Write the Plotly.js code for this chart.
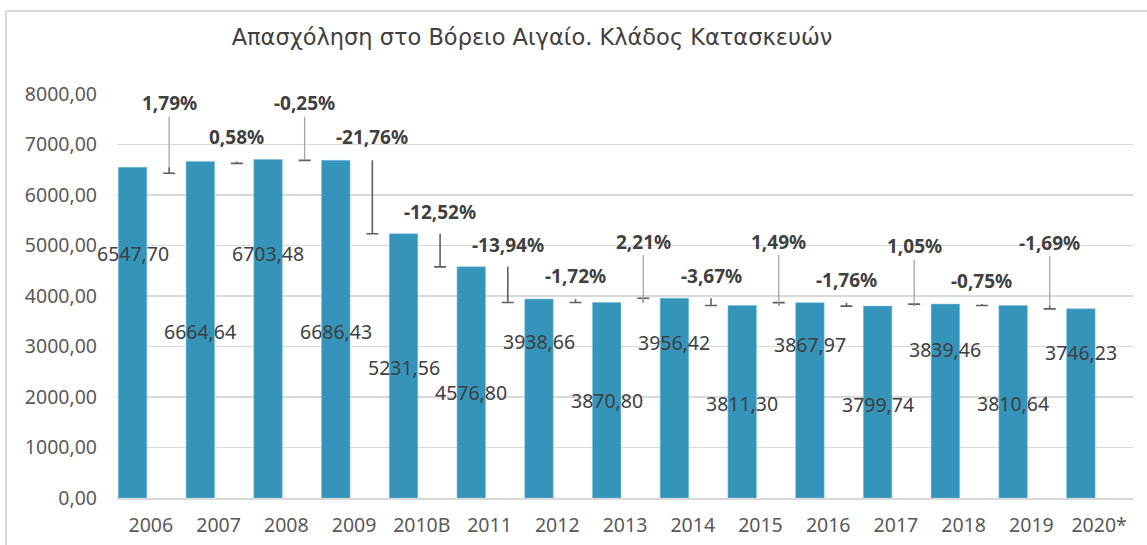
<!DOCTYPE html>
<html>
<head>
<meta charset="utf-8">
<script src="https://cdn.plot.ly/plotly-3.0.1.min.js"></script>
<style>
  html, body { margin: 0; padding: 0; background: #ffffff; }
  #chart { width: 1147px; height: 545px; }
</style>
</head>
<body>
<div id="chart"></div>
<script>
// ---- data ----
const categories = ["2006","2007","2008","2009","2010B","2011","2012","2013","2014","2015","2016","2017","2018","2019","2020*"];
const employment = [6547.70, 6664.64, 6703.48, 6686.43, 5231.56, 4576.80, 3938.66, 3870.80, 3956.42, 3811.30, 3867.97, 3799.74, 3839.46, 3810.64, 3746.23];
const pctChange = [1.79, 0.58, -0.25, -21.76, -12.52, -13.94, -1.72, 2.21, -3.67, 1.49, -1.76, 1.05, -0.75, -1.69];
// end (capped) value of each change marker
const markerEnd = [6430, 6626, 6686, 5232, 4577, 3871, 3871, 3956, 3811, 3868, 3800, 3839, 3811, 3746];

// ---- presentation settings (not data) ----
const pctLift = [64, 24, 56, 23, 22, 22, 23, 61, 22, 64, 23, 60, 23, 63];       // px above marker start
const valShift = [79, -2, 75, -2, -2, -10, 57, 0, 56, -2, 56, -2, 52, -2, 51];   // px from bar middle
const FONT = '"Noto Sans", "Open Sans", sans-serif';
const TITLE_FONT = '"DejaVu Sans", "Noto Sans", sans-serif';
const TXT = '#404040';
const barColor = '#3494BA';
const idx = categories.map((c, i) => i);
const barShift = -0.27, markShift = 0.27;

const fmt = v => v.toFixed(2).replace('.', ',');

const mx = pctChange.map((p, i) => i + markShift);
const my = pctChange.map((p, i) => employment[i]);

const traces = [
  {
    type: 'bar', x: idx, y: employment, width: 0.42, offset: -0.48,
    marker: { color: barColor, line: { color: 'rgba(120,190,220,0.7)', width: 0.8 } },
    hoverinfo: 'skip', showlegend: false
  },
  { // stems of change markers
    type: 'scatter', mode: 'markers', x: mx, y: my,
    marker: { size: 1, opacity: 0 },
    error_y: {
      type: 'data', symmetric: false,
      array: markerEnd.map((e, i) => Math.max(0, e - employment[i])),
      arrayminus: markerEnd.map((e, i) => Math.max(0, employment[i] - e)),
      width: 0, thickness: 1.6, color: '#5f5f5f'
    },
    hoverinfo: 'skip', showlegend: false
  },
  { // caps of change markers
    type: 'scatter', mode: 'markers', x: mx, y: markerEnd,
    marker: { size: 1, opacity: 0 },
    error_y: { type: 'data', array: markerEnd.map(() => 0), width: 6, thickness: 1.6, color: '#5f5f5f' },
    hoverinfo: 'skip', showlegend: false
  }
];

const annotations = [];
employment.forEach((v, i) => {
  annotations.push({
    x: i + barShift, y: v / 2, xref: 'x', yref: 'y',
    text: fmt(v), showarrow: false, yshift: valShift[i],
    xanchor: 'center', yanchor: 'middle',
    font: { family: FONT, size: 19.5, color: TXT }
  });
});
pctChange.forEach((p, i) => {
  const leader = pctLift[i] > 40;
  annotations.push({
    x: i + markShift, y: employment[i], xref: 'x', yref: 'y',
    text: '<b>' + fmt(p) + '%</b>',
    showarrow: true, arrowhead: 0, standoff: 0, startstandoff: 0,
    ax: 0, ay: -pctLift[i],
    arrowcolor: leader ? '#a6a6a6' : 'rgba(0,0,0,0)', arrowwidth: 1.3,
    borderpad: 0,
    font: { family: FONT, size: 19, color: TXT }
  });
});

const layout = {
  width: 1147, height: 545,
  margin: { l: 117, r: 14, t: 94, b: 47 },
  paper_bgcolor: '#ffffff', plot_bgcolor: '#ffffff',
  separators: ',.',
  font: { family: FONT, color: '#595959', size: 19.5 },
  title: {
    text: 'Απασχόληση στο Βόρειο Αιγαίο. Κλάδος Κατασκευών',
    x: 532 / 1147, xanchor: 'center', y: 1 - 37 / 545, yanchor: 'middle',
    font: { family: TITLE_FONT, size: 22.5, color: TXT }
  },
  xaxis: {
    type: 'linear', range: [-0.5, 14.5],
    tickvals: idx, ticktext: categories,
    showgrid: false, zeroline: false, ticks: '',
    showline: true, linecolor: '#d9d9d9', linewidth: 1.5,
    ticklabelstandoff: 9,
    tickfont: { family: FONT, size: 19.5, color: '#595959' }
  },
  yaxis: {
    range: [0, 8000], dtick: 1000, tick0: 0, tickformat: '.2f',
    showgrid: true, gridcolor: '#d9d9d9', gridwidth: 1.3,
    zeroline: false, ticks: '', showline: false,
    ticklabelstandoff: 19,
    tickfont: { family: FONT, size: 19.5, color: '#595959' }
  },
  annotations: annotations,
  shapes: [
    { type: 'line', xref: 'paper', yref: 'paper', x0: -0.1093, x1: -0.1093, y0: -0.3, y1: 1.2054,
      line: { color: '#d9d9d9', width: 2 } },
    { type: 'line', xref: 'paper', yref: 'paper', x0: -0.1093, x1: 1.3, y0: 1.2054, y1: 1.2054,
      line: { color: '#d9d9d9', width: 2 } }
  ],
  showlegend: false,
  bargap: 0
};

Plotly.newPlot('chart', traces, layout, { staticPlot: true, displayModeBar: false });
</script>
</body>
</html>
